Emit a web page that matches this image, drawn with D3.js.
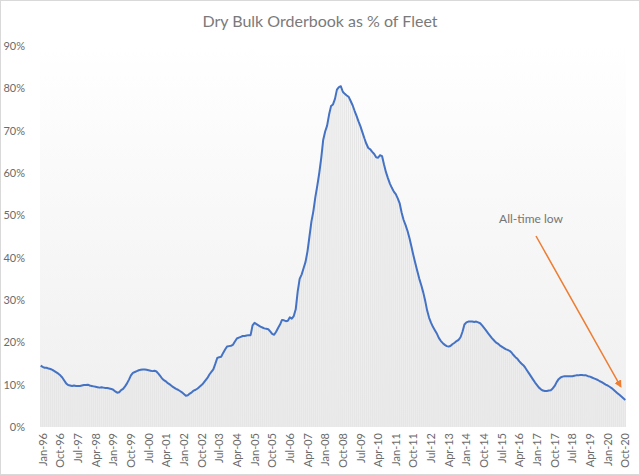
<!DOCTYPE html>
<html>
<head>
<meta charset="utf-8">
<script src="https://cdn.jsdelivr.net/npm/d3@7"></script>
<style>
  body { margin: 0; background: #fff; }
  text { font-family: Lato, "Open Sans", sans-serif; }
</style>
</head>
<body>
<div id="chart"></div>
<script>
// Orderbook as % of fleet, monthly, Jan-96 .. Nov-20
var ob1996 = [14.5, 14.2, 14.0, 14.0, 13.8, 13.7, 13.5, 13.2, 12.9, 12.6, 12.2, 11.7];
var ob1997 = [11.0, 10.3, 9.9, 9.8, 9.7, 9.8, 9.7, 9.7, 9.7, 9.8, 9.9, 9.9];
var ob1998 = [10.0, 9.8, 9.7, 9.6, 9.5, 9.4, 9.3, 9.4, 9.3, 9.2, 9.2, 9.1];
var ob1999 = [9.0, 8.8, 8.4, 8.1, 8.2, 8.7, 9.0, 9.6, 10.3, 11.2, 12.2, 12.8];
var ob2000 = [13.0, 13.2, 13.4, 13.5, 13.6, 13.6, 13.5, 13.4, 13.3, 13.2, 13.3, 13.1];
var ob2001 = [12.6, 12.0, 11.4, 11.0, 10.7, 10.3, 10.0, 9.6, 9.3, 9.0, 8.8, 8.5];
var ob2002 = [8.2, 7.8, 7.4, 7.5, 7.9, 8.2, 8.6, 8.8, 9.1, 9.5, 9.9, 10.4];
var ob2003 = [11.0, 11.6, 12.4, 13.0, 13.6, 14.9, 16.3, 16.5, 16.6, 17.5, 18.3, 19.0];
var ob2004 = [19.1, 19.2, 19.4, 20.2, 20.9, 21.1, 21.3, 21.5, 21.5, 21.6, 21.7, 21.7];
var ob2005 = [24.0, 24.6, 24.3, 24.0, 23.7, 23.5, 23.3, 23.2, 23.1, 22.6, 22.0, 21.8];
var ob2006 = [22.5, 23.4, 24.2, 25.3, 25.2, 25.0, 25.1, 25.9, 25.6, 26.2, 27.8, 32.0];
var ob2007 = [35.0, 36.0, 37.5, 39.0, 41.5, 45.0, 48.5, 51.0, 54.3, 57.0, 60.0, 63.5];
var ob2008 = [67.8, 69.8, 71.2, 73.8, 75.8, 76.2, 77.5, 79.7, 80.3, 80.5, 79.2, 78.7];
var ob2009 = [78.3, 78.0, 77.0, 76.0, 74.7, 73.5, 72.2, 71.0, 69.6, 68.2, 66.9, 65.9];
var ob2010 = [65.6, 65.0, 64.5, 63.7, 63.6, 64.2, 64.0, 62.0, 60.2, 58.8, 57.5, 56.5];
var ob2011 = [55.6, 55.0, 54.0, 52.8, 50.6, 48.9, 47.7, 46.3, 44.6, 42.6, 40.5, 38.6];
var ob2012 = [36.8, 35.0, 33.5, 31.8, 29.8, 27.5, 25.8, 24.6, 23.6, 22.8, 22.0, 21.0];
var ob2013 = [20.3, 19.8, 19.4, 19.1, 19.0, 19.2, 19.6, 19.9, 20.3, 20.6, 21.2, 22.5];
var ob2014 = [24.2, 24.7, 24.9, 24.9, 24.9, 24.8, 24.9, 24.7, 24.5, 24.0, 23.4, 22.8];
var ob2015 = [22.2, 21.6, 21.0, 20.5, 20.0, 19.7, 19.3, 19.0, 18.7, 18.4, 18.2, 18.0];
var ob2016 = [17.6, 17.0, 16.5, 16.1, 15.5, 15.0, 14.6, 14.0, 13.3, 12.6, 11.9, 11.2];
var ob2017 = [10.5, 9.9, 9.3, 8.9, 8.6, 8.5, 8.5, 8.6, 8.7, 9.1, 9.7, 10.6];
var ob2018 = [11.3, 11.7, 11.9, 12.0, 12.0, 12.0, 12.0, 12.0, 12.1, 12.2, 12.2, 12.3];
var ob2019 = [12.3, 12.2, 12.2, 12.0, 11.9, 11.7, 11.5, 11.3, 11.1, 10.8, 10.6, 10.3];
var ob2020 = [10.0, 9.8, 9.5, 9.2, 8.8, 8.4, 8.0, 7.6, 7.2, 6.8, 6.4];

var values = [].concat(ob1996, ob1997, ob1998, ob1999, ob2000, ob2001, ob2002,
    ob2003, ob2004, ob2005, ob2006, ob2007, ob2008, ob2009, ob2010, ob2011,
    ob2012, ob2013, ob2014, ob2015, ob2016, ob2017, ob2018, ob2019, ob2020);

// one category per month starting Jan-96
var months = d3.range(values.length).map(function(i) { return new Date(1996, i, 1); });
var labelEvery = 9; // a label every 9 months, Jan-96 .. Oct-20
var yTicks = [0, 10, 20, 30, 40, 50, 60, 70, 80, 90];

var title = "Dry Bulk Orderbook as % of Fleet";
var note = "All-time low";

var width = 640, height = 475;
var margin = {top: 46, right: 14, bottom: 48, left: 40};

var svg = d3.select("#chart").append("svg")
    .attr("width", width)
    .attr("height", height);

// chart border
svg.append("rect")
    .attr("x", 0.5).attr("y", 0.5)
    .attr("width", width - 1).attr("height", height - 1)
    .attr("fill", "#fff")
    .attr("stroke", "#d9d9d9");

var x = d3.scaleBand()
    .domain(d3.range(values.length))
    .range([margin.left, width - margin.right])
    .paddingInner(0.3);

var y = d3.scaleLinear()
    .domain([0, 90])
    .range([height - margin.bottom, margin.top]);

// plot area gradient
var grad = svg.append("defs").append("linearGradient")
    .attr("id", "bg").attr("x1", 0).attr("y1", 0).attr("x2", 0).attr("y2", 1);
grad.append("stop").attr("offset", "0%").attr("stop-color", "#ffffff");
grad.append("stop").attr("offset", "100%").attr("stop-color", "#efefef");

svg.append("rect")
    .attr("x", margin.left)
    .attr("y", margin.top)
    .attr("width", width - margin.right - margin.left)
    .attr("height", y(0) - margin.top)
    .attr("fill", "url(#bg)");

// pale columns under the line
svg.append("g")
    .selectAll("rect")
    .data(values)
    .enter().append("rect")
    .attr("x", function(d, i) { return x(i); })
    .attr("y", function(d) { return y(d); })
    .attr("width", x.bandwidth())
    .attr("height", function(d) { return y(0) - y(d); })
    .attr("fill", "#e6e6e6");

// the line
var line = d3.line()
    .x(function(d, i) { return x(i) + x.bandwidth() / 2; })
    .y(function(d) { return y(d); });

svg.append("path")
    .datum(values)
    .attr("d", line)
    .attr("fill", "none")
    .attr("stroke", "#4472c4")
    .attr("stroke-width", 2)
    .attr("stroke-linejoin", "round");

// y axis
var yAxis = svg.append("g")
    .attr("transform", "translate(" + (margin.left - 12) + ",0)")
    .call(d3.axisLeft(y).tickValues(yTicks).tickSize(0)
        .tickFormat(function(d) { return d + "%"; }));
yAxis.select(".domain").remove();
yAxis.selectAll("text")
    .attr("fill", "#6b6b6b")
    .style("font-size", "11px");

// x axis
var fmt = d3.timeFormat("%b-%y");
var xAxis = svg.append("g")
    .attr("transform", "translate(0," + y(0) + ")")
    .call(d3.axisBottom(x)
        .tickValues(d3.range(0, values.length, labelEvery))
        .tickSize(0)
        .tickFormat(function(i) { return fmt(months[i]); }));
xAxis.select(".domain").remove();
xAxis.selectAll("text")
    .attr("fill", "#6b6b6b")
    .style("font-size", "11px")
    .attr("text-anchor", "end")
    .attr("dx", 0).attr("dy", 0)
    .attr("transform", "translate(3,6) rotate(-90)");

// title
svg.append("text")
    .attr("x", 320).attr("y", 27)
    .attr("text-anchor", "middle")
    .attr("fill", "#7a7a7a")
    .style("font-size", "16px")
    .text(title);

// annotation
svg.append("defs").append("marker")
    .attr("id", "head")
    .attr("viewBox", "0 0 10 10")
    .attr("refX", 8).attr("refY", 5)
    .attr("markerWidth", 5).attr("markerHeight", 5)
    .attr("orient", "auto")
    .append("path")
    .attr("d", "M0,0L10,5L0,10Z")
    .attr("fill", "#ed7d31");

var lowIdx = values.length - 3;
svg.append("line")
    .attr("x1", 536).attr("y1", 236)
    .attr("x2", x(lowIdx)).attr("y2", y(values[lowIdx]) - 10)
    .attr("stroke", "#ed7d31")
    .attr("stroke-width", 1.5)
    .attr("marker-end", "url(#head)");

svg.append("text")
    .attr("x", 531).attr("y", 223)
    .attr("text-anchor", "middle")
    .attr("fill", "#757575")
    .style("font-size", "12px")
    .text(note);
</script>
</body>
</html>
